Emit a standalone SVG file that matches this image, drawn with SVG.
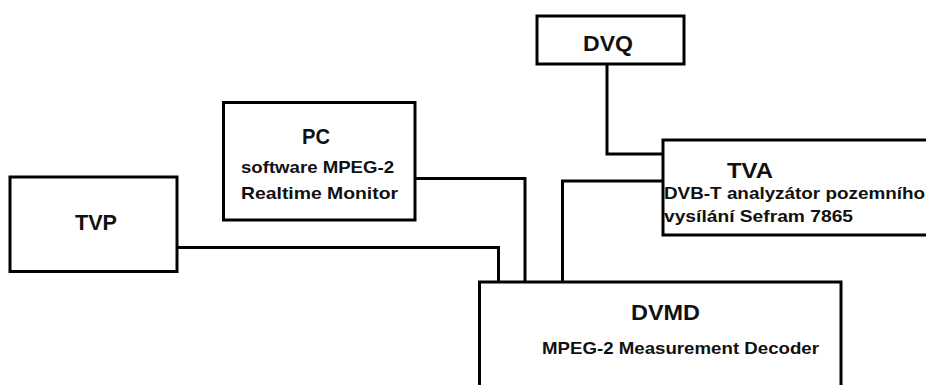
<svg xmlns="http://www.w3.org/2000/svg" width="926" height="385" viewBox="0 0 926 385">
<style>
.box{fill:#fff;stroke:#000;stroke-width:3}
.wire{fill:none;stroke:#000;stroke-width:3;stroke-linejoin:miter}
.big{font-family:"Liberation Sans",Arial,sans-serif;font-weight:bold;font-size:22px;fill:#111}
.small{font-family:"Liberation Sans",Arial,sans-serif;font-weight:bold;font-size:17px;fill:#111}
</style>
<rect width="926" height="385" fill="#fff"/>
<g id="connectors">
<polyline class="wire" points="607,64 607,154 663,154"/>
<polyline class="wire" points="415,178.5 525,178.5 525,282"/>
<polyline class="wire" points="177,247.5 498.5,247.5 498.5,282"/>
<polyline class="wire" points="663,181 562.5,181 562.5,282"/>
</g>
<g id="DVQ">
<rect class="box" x="537" y="16" width="147" height="48"/>
<text class="big" x="583" y="50.5" textLength="50" lengthAdjust="spacingAndGlyphs">DVQ</text>
</g>
<g id="TVA">
<rect class="box" x="663" y="140" width="270" height="95"/>
<text class="big" x="727" y="178" textLength="46" lengthAdjust="spacingAndGlyphs">TVA</text>
<text class="small" x="664" y="198.5" textLength="261" lengthAdjust="spacingAndGlyphs">DVB-T analyzátor pozemního</text>
<text class="small" x="664" y="222" textLength="189" lengthAdjust="spacingAndGlyphs">vysílání Sefram 7865</text>
</g>
<g id="PC">
<rect class="box" x="223.5" y="102.5" width="191.5" height="117.5"/>
<text class="big" x="302" y="143.5" textLength="28" lengthAdjust="spacingAndGlyphs">PC</text>
<text class="small" x="241" y="173" textLength="153" lengthAdjust="spacingAndGlyphs">software MPEG-2</text>
<text class="small" x="241" y="198.5" textLength="157" lengthAdjust="spacingAndGlyphs">Realtime Monitor</text>
</g>
<g id="TVP">
<rect class="box" x="10" y="177" width="167" height="94.5"/>
<text class="big" x="75" y="230" textLength="42" lengthAdjust="spacingAndGlyphs">TVP</text>
</g>
<g id="DVMD">
<rect class="box" x="479.5" y="282" width="361.5" height="110"/>
<text class="big" x="631" y="319.5" textLength="69" lengthAdjust="spacingAndGlyphs">DVMD</text>
<text class="small" x="542" y="354" textLength="277" lengthAdjust="spacingAndGlyphs">MPEG-2 Measurement Decoder</text>
</g>
</svg>
